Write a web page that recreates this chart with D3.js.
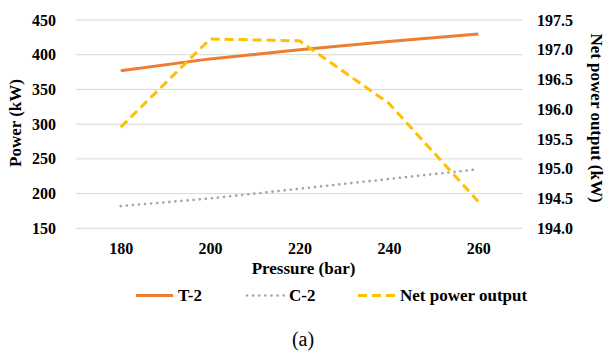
<!DOCTYPE html>
<html>
<head>
<meta charset="utf-8">
<script src="https://cdn.jsdelivr.net/npm/d3@7/dist/d3.min.js"></script>
<style>
  html, body { margin: 0; padding: 0; background: #fff; }
  svg { display: block; }
</style>
</head>
<body>
<svg id="chart" width="605" height="352">
  <g id="grid"></g>
  <g id="axes"></g>
  <g id="series"></g>
  <text x="21" y="123" transform="rotate(-90 21 123)" text-anchor="middle" font-family="Times New Roman" font-size="17" font-weight="bold">Power (kW)</text>
  <text x="591" y="118" transform="rotate(90 591 118)" text-anchor="middle" font-family="Times New Roman" font-size="17" font-weight="bold">Net power output (kW)</text>
  <text x="303.5" y="274" text-anchor="middle" font-family="Times New Roman" font-size="17" font-weight="bold">Pressure (bar)</text>
  <g id="legend"></g>
  <text x="303" y="346" text-anchor="middle" font-family="Times New Roman" font-size="20">(a)</text>
</svg>
<script>
// Pressure levels (bar)
const pressures = [180, 200, 220, 240, 260];
// Turbine T-2 power (kW)
const t2Power = [377, 394, 407, 419, 430];
// Compressor C-2 power (kW)
const c2Power = [182, 193, 207, 221, 235];
// Net power output (kW), right axis
const netPower = [195.7, 197.18, 197.15, 196.1, 194.45];

const leftTicks = [150, 200, 250, 300, 350, 400, 450];
const rightTicks = [194.0, 194.5, 195.0, 195.5, 196.0, 196.5, 197.0, 197.5];
const seriesNames = ["T-2", "C-2", "Net power output"];

const FONT = "Times New Roman";

const svg = d3.select("#chart");
const plot = { left: 76, right: 523, top: 20, bottom: 228.3 };

const x = d3.scalePoint().domain(pressures).range([plot.left, plot.right]).padding(0.5);
const yL = d3.scaleLinear().domain([150, 450]).range([plot.bottom, plot.top]);
const yR = d3.scaleLinear().domain([194, 197.5]).range([plot.bottom, plot.top]);

function serif(sel, size, bold) {
  return sel.attr("font-family", FONT).attr("font-size", size)
    .attr("font-weight", bold ? "bold" : "normal").attr("fill", "#000");
}

// Horizontal gridlines
svg.select("#grid").selectAll("line").data(leftTicks).join("line")
  .attr("x1", plot.left).attr("x2", plot.right)
  .attr("y1", d => yL(d)).attr("y2", d => yL(d))
  .attr("stroke", "#d9d9d9").attr("stroke-width", 1);

function styleAxis(g) {
  g.attr("font-family", FONT).attr("font-size", 16).attr("font-weight", "bold");
  g.select(".domain").remove();
  serif(g.selectAll("text"), 16, true);
}

const axes = svg.select("#axes");
axes.append("g").attr("transform", `translate(${plot.left - 20},0)`)
  .call(d3.axisLeft(yL).tickValues(leftTicks).tickSize(0).tickPadding(0).tickFormat(d3.format("d")))
  .call(styleAxis);
axes.append("g").attr("transform", `translate(${plot.right + 14},0)`)
  .call(d3.axisRight(yR).tickValues(rightTicks).tickSize(0).tickPadding(0).tickFormat(d3.format(".1f")))
  .call(styleAxis);
axes.append("g").attr("transform", `translate(0,${plot.bottom + 14})`)
  .call(d3.axisBottom(x).tickSize(0).tickPadding(0))
  .call(styleAxis);

// Series lines
const lineL = d3.line().x((d, i) => x(pressures[i])).y(d => yL(d));
const lineR = d3.line().x((d, i) => x(pressures[i])).y(d => yR(d));
const series = svg.select("#series");

series.append("path").datum(c2Power).attr("d", lineL)
  .attr("fill", "none").attr("stroke", "#a5a5a5").attr("stroke-width", 2.6)
  .attr("stroke-linecap", "round").attr("stroke-dasharray", "0.1,6");
series.append("path").datum(t2Power).attr("d", lineL)
  .attr("fill", "none").attr("stroke", "#ed7d31").attr("stroke-width", 3);
series.append("path").datum(netPower).attr("d", lineR)
  .attr("fill", "none").attr("stroke", "#ffc000").attr("stroke-width", 3)
  .attr("stroke-dasharray", "9,5");

// Legend
const legendStyles = [
  { color: "#ed7d31", dash: null, cap: "butt", width: 3, x: 136 },
  { color: "#a5a5a5", dash: "0.1,6", cap: "round", width: 2.6, x: 247 },
  { color: "#ffc000", dash: "9,5", cap: "butt", width: 3, x: 358 }
];
const lg = svg.select("#legend");
seriesNames.forEach((name, i) => {
  const s = legendStyles[i];
  lg.append("line").attr("x1", s.x).attr("x2", s.x + 37).attr("y1", 295.5).attr("y2", 295.5)
    .attr("stroke", s.color).attr("stroke-width", s.width)
    .attr("stroke-linecap", s.cap).attr("stroke-dasharray", s.dash);
  serif(lg.append("text").attr("x", s.x + 42).attr("y", 301), 17, true).text(name);
});
</script>
</body>
</html>
